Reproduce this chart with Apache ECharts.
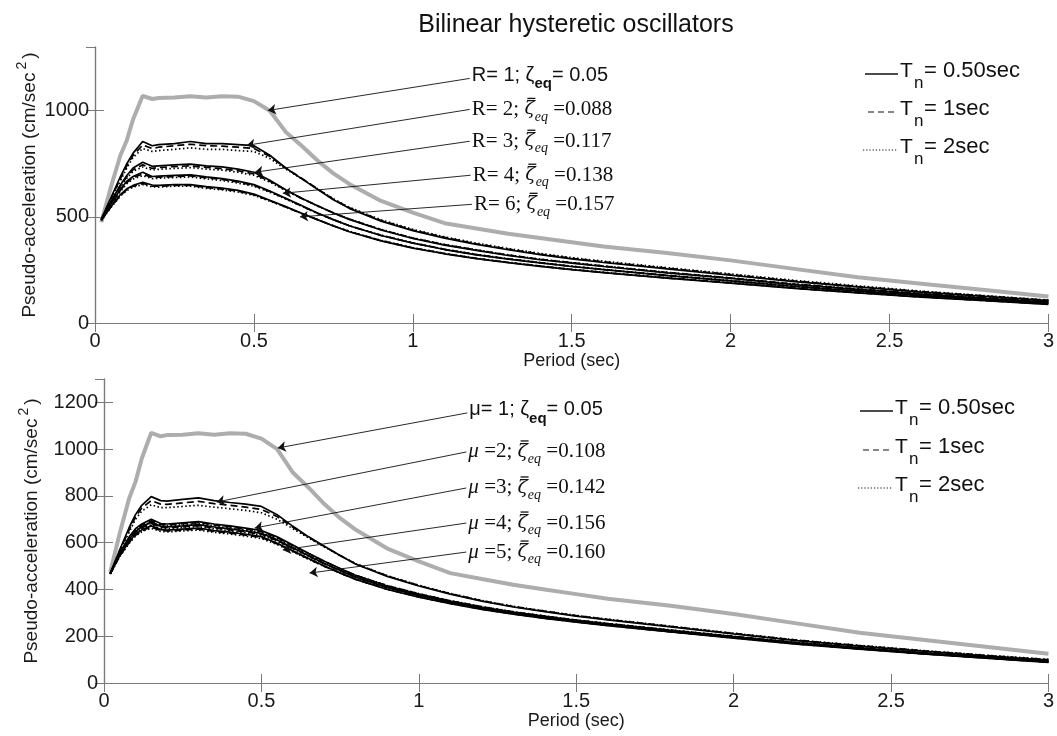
<!DOCTYPE html>
<html>
<head>
<meta charset="utf-8">
<script src="https://cdn.jsdelivr.net/npm/echarts@6/dist/echarts.min.js"></script>
<style>
html, body { margin: 0; padding: 0; background: #fff; }
#chart { width: 1057px; height: 736px; }
</style>
</head>
<body>
<div id="chart"></div>
<script>
// Period axis samples (sec)
const periods = [0.02,0.05,0.08,0.1,0.12,0.15,0.18,0.2,0.25,0.3,0.35,0.4,0.45,0.5,0.55,0.6,0.65,0.7,0.75,0.8,0.9,1.0,1.1,1.2,1.3,1.4,1.5,1.6,1.8,2.0,2.2,2.4,2.6,2.8,3.0];

// Elastic spectrum, 5% damping (cm/sec^2)
const elastic = [475,640,790,860,960,1070,1055,1060,1062,1068,1062,1068,1066,1045,1000,900,835,765,705,655,575,520,470,445,420,400,380,360,330,295,255,215,185,155,125];

// Upper panel: strength reduction factor R
const r2_t050 = [490,590,690,750,800,855,835,840,845,855,845,845,840,835,790,730,680,630,580,540,480,435,400,370,345,322,302,285,255,225,195,170,145,125,105];
const r2_t1   = [488,585,680,740,790,838,822,828,835,842,835,833,828,822,785,730,682,632,583,543,483,438,403,373,348,325,305,288,258,228,198,172,148,127,107];
const r2_t2   = [486,580,670,730,780,822,808,812,818,825,818,818,812,808,775,725,680,632,585,545,486,441,406,376,351,328,308,291,261,231,201,175,150,129,108];
const r3_t050 = [488,570,650,695,730,757,738,740,745,748,740,735,725,710,672,628,588,552,518,488,438,398,367,342,318,298,282,266,236,210,181,158,136,116,98];
const r3_t1   = [487,567,645,688,722,745,728,732,737,740,733,727,717,702,668,626,587,552,519,489,440,400,369,344,320,300,284,268,238,212,183,160,138,118,100];
const r3_t2   = [486,564,640,682,715,735,720,724,728,732,725,720,710,696,664,624,586,551,519,490,441,401,370,345,321,301,285,269,239,213,184,161,139,119,101];
const r4_t050 = [487,560,630,668,690,710,690,692,695,698,688,680,668,652,622,588,553,518,487,458,412,376,346,321,301,283,266,251,223,198,172,150,129,110,93];
const r4_t1   = [486,557,625,662,684,702,685,687,690,693,684,676,664,648,619,586,551,517,487,458,413,377,347,322,302,284,267,252,224,199,173,151,130,111,94];
const r4_t2   = [485,554,620,656,678,694,680,682,685,688,679,671,659,644,616,584,550,516,486,458,414,378,348,323,303,285,268,253,225,200,174,152,131,112,95];
const r6_t050 = [485,548,605,632,648,663,650,648,652,652,642,635,625,607,578,548,517,487,457,430,387,353,326,303,284,267,251,237,211,188,163,142,122,105,88];
const r6_t1   = [484,546,601,628,644,657,645,644,648,648,638,631,621,604,576,547,516,487,458,431,388,354,327,304,285,268,252,238,212,189,164,143,123,106,89];
const r6_t2   = [483,544,598,624,640,652,641,640,644,644,634,627,617,601,574,546,516,487,458,432,389,355,328,305,286,269,253,239,213,190,165,144,124,107,90];

// Lower panel: ductility ratio mu
const m2_t050 = [470,570,665,720,760,797,780,778,785,792,780,772,765,755,720,670,625,585,545,508,456,415,380,350,325,305,286,270,240,210,181,158,136,116,98];
const m2_t1   = [469,565,655,710,748,780,765,764,770,777,767,760,752,742,712,666,623,584,545,509,458,417,382,352,327,307,288,272,242,212,183,160,138,118,100];
const m2_t2   = [468,560,645,700,735,762,750,750,755,760,752,745,738,728,700,660,620,582,545,510,459,418,383,353,328,308,289,273,243,213,184,161,139,119,101];
const m3_t050 = [470,555,625,660,680,700,682,680,685,690,680,672,662,652,625,590,555,521,490,460,415,380,350,325,303,285,268,253,225,198,172,150,128,110,92];
const m3_t1   = [469,553,621,655,675,694,677,676,681,686,676,668,658,648,621,587,553,520,489,460,416,381,351,326,304,286,269,254,226,199,173,151,129,111,93];
const m3_t2   = [468,551,617,651,671,688,672,672,677,682,672,664,654,644,618,585,551,519,489,460,417,382,352,327,305,287,270,255,227,200,174,152,130,112,94];
const m4_t050 = [469,550,615,648,668,688,670,668,672,677,667,659,650,640,612,578,544,511,481,452,408,374,345,320,299,281,264,249,221,195,169,147,126,108,90];
const m4_t1   = [468,548,611,644,664,682,665,664,668,673,663,655,646,636,609,576,543,510,481,452,409,375,346,321,300,282,265,250,222,196,170,148,127,109,91];
const m4_t2   = [467,546,607,640,660,677,661,660,664,669,659,651,642,632,606,574,541,509,480,452,410,376,347,322,301,283,266,251,223,197,171,149,128,110,92];
const m5_t050 = [468,545,605,636,655,672,656,654,658,662,652,645,636,626,598,565,532,500,471,443,400,367,339,315,294,276,260,245,218,192,166,145,124,106,88];
const m5_t1   = [467,543,601,632,651,667,652,650,654,658,648,641,632,622,595,563,531,499,470,443,401,368,340,316,295,277,261,246,219,193,167,146,125,107,89];
const m5_t2   = [466,541,597,628,647,662,648,646,650,654,644,637,628,618,592,561,529,498,470,443,402,369,341,317,296,278,262,247,220,194,168,147,126,108,90];

// Axis ticks
const xTicks = [0, 0.5, 1, 1.5, 2, 2.5, 3];
const yMax = 1300;
const yStepTop = 500;
const yStepBottom = 200;

// Annotation texts and arrows: [label anchor, arrow tip] in data units.
// 'lead' is the text ahead of the barred zeta (used to place the overbar).
const topNotes = [
  { text: '{sn|R= 1; ζ}{sb|eq}{sn|= 0.05}', sans: true, from: [1.179, 1152], to: [0.544, 1001] },
  { lead: 'R= 2; ', text: 'R= 2; {zb|ζ}{sub|eq} =0.088', from: [1.179, 1006], to: [0.478, 837] },
  { lead: 'R= 3; ', text: 'R= 3; {zb|ζ}{sub|eq} =0.117', from: [1.179, 856], to: [0.503, 710] },
  { lead: 'R= 4; ', text: 'R= 4; {zb|ζ}{sub|eq} =0.138', from: [1.182, 696], to: [0.591, 611] },
  { lead: 'R= 6; ', text: 'R= 6; {zb|ζ}{sub|eq} =0.157', from: [1.186, 559], to: [0.645, 500] }
];
const bottomNotes = [
  { text: '{sn|μ= 1; ζ}{sb|eq}{sn|= 0.05}', sans: true, from: [1.154, 1155], to: [0.552, 1005] },
  { lead: '{it|μ} =2; ', text: '{it|μ} =2; {zb|ζ}{sub|eq} =0.108', from: [1.151, 988], to: [0.358, 774] },
  { lead: '{it|μ} =3; ', text: '{it|μ} =3; {zb|ζ}{sub|eq} =0.142', from: [1.151, 834], to: [0.479, 663] },
  { lead: '{it|μ} =4; ', text: '{it|μ} =4; {zb|ζ}{sub|eq} =0.156', from: [1.151, 684], to: [0.568, 569] },
  { lead: '{it|μ} =5; ', text: '{it|μ} =5; {zb|ζ}{sub|eq} =0.160', from: [1.151, 560], to: [0.653, 470] }
];

const legendLabels = ['= 0.50sec', '= 1sec', '= 2sec'];
const yName = 'Pseudo-acceleration (cm/sec{sup|2})';

const SANS = '"Liberation Sans", Arial, sans-serif';
const SERIF = '"Liberation Serif", "Times New Roman", serif';
const ZSERIF = '"DejaVu Serif", "Liberation Serif", serif';
const AXIS_GREY = '#7a7a7a';
const INK = '#111';
const CLEAR = 'rgba(0,0,0,0)';
const DASH = { solid: 'solid', dashed: [7, 4], dotted: [1.5, 2.5] };

function toPoints(values) {
  return periods.map((p, i) => [p, values[i]]);
}

function curve(name, values, kind, g) {
  return {
    type: 'line', name: name, xAxisIndex: g * 2, yAxisIndex: g * 2,
    data: toPoints(values), symbol: 'none', silent: true, z: 3,
    lineStyle: { color: '#000', width: 1.7, type: DASH[kind] }
  };
}

function elasticCurve(g) {
  return {
    type: 'line', name: 'elastic', xAxisIndex: g * 2, yAxisIndex: g * 2,
    data: toPoints(elastic), symbol: 'none', silent: true, z: 2,
    lineStyle: { color: '#adadad', width: 4 }
  };
}

function xAxes(g, nameGap) {
  const base = {
    type: 'value', gridIndex: g, min: 0, max: 3, interval: 0.5,
    splitLine: { show: false },
    axisLine: { show: true, lineStyle: { color: AXIS_GREY, width: 1.2 } },
    axisTick: { show: true, inside: true, length: 9, lineStyle: { color: AXIS_GREY } }
  };
  return [
    Object.assign({}, base, {
      position: 'bottom',
      axisLabel: { show: true, fontSize: 20, fontFamily: SANS, color: '#1a1a1a', margin: 8,
        formatter: v => xTicks.includes(v) ? String(v) : '' },
      name: 'Period (sec)', nameLocation: 'middle', nameGap: nameGap,
      nameTextStyle: { fontSize: 18, fontFamily: SANS, color: '#1a1a1a' }
    }),
    Object.assign({}, base, { position: 'top', axisLabel: { show: false } })
  ];
}

function yAxes(g, step) {
  const base = {
    type: 'value', gridIndex: g, min: 0, max: yMax, interval: step,
    splitLine: { show: false },
    axisLine: { show: true, lineStyle: { color: AXIS_GREY, width: 1.2 } },
    axisTick: { show: true, inside: true, length: 9, lineStyle: { color: AXIS_GREY } }
  };
  return [
    Object.assign({}, base, {
      position: 'left',
      axisLabel: { show: true, fontSize: 20, fontFamily: SANS, color: '#1a1a1a', margin: 6,
        showMaxLabel: false, formatter: v => String(v) }
    }),
    Object.assign({}, base, { position: 'right', axisLabel: { show: false } })
  ];
}

const labelRich = {
  sn: { fontFamily: SANS, fontSize: 20, color: INK },
  sb: { fontFamily: SANS, fontSize: 15, fontWeight: 'bold', color: INK, padding: [17, 0, 0, 0] },
  it: { fontFamily: SERIF, fontSize: 21, fontStyle: 'italic', color: INK },
  zb: { fontFamily: ZSERIF, fontSize: 19, fontStyle: 'italic', color: INK },
  sub: { fontFamily: SERIF, fontSize: 14, fontStyle: 'italic', color: INK, padding: [15, 0, 0, 0] }
};

// Same metrics as the label, but invisible except for the overbar
const barRich = {
  it: { fontFamily: SERIF, fontSize: 21, fontStyle: 'italic', color: CLEAR },
  gap: { fontFamily: SERIF, fontSize: 21, color: CLEAR, width: 3 },
  bar: { fontSize: 1, color: CLEAR, width: 8, height: 1.3, backgroundColor: INK }
};

function notesSeries(notes, g) {
  const labels = notes.map(n => ({
    coord: n.from,
    label: {
      show: true, position: 'right', distance: 2, formatter: n.text,
      fontFamily: n.sans ? SANS : SERIF, fontSize: n.sans ? 20 : 21, color: INK,
      offset: n.sans ? [0, -3] : [0, 0], rich: labelRich
    }
  }));
  const bars = notes.filter(n => n.lead).map(n => ({
    coord: n.from,
    label: {
      show: true, position: 'right', distance: 2, formatter: n.lead + '{gap| }{bar| }',
      fontFamily: SERIF, fontSize: 21, color: CLEAR, offset: [0, -11], rich: barRich
    }
  }));
  return {
    type: 'line', name: 'notes' + g, xAxisIndex: g * 2, yAxisIndex: g * 2, data: [], z: 5,
    markLine: {
      silent: true, animation: false, symbol: ['none', 'arrow'], symbolSize: 8,
      label: { show: false },
      lineStyle: { color: INK, width: 0.9, type: 'solid' },
      emphasis: { disabled: true },
      data: notes.map(n => [{ coord: n.from }, { coord: n.to }])
    },
    markPoint: {
      silent: true, animation: false, symbol: 'circle', symbolSize: 0,
      data: labels.concat(bars)
    }
  };
}

// Line-style key, drawn as plain shapes and text
function legendGraphics(rows, lineX2, textX) {
  const els = [];
  const starts = [lineX2 - 33, lineX2 - 30, lineX2 - 35];
  const kinds = ['solid', 'dashed', 'dotted'];
  rows.forEach((y, i) => {
    els.push({ type: 'line', silent: true,
      shape: { x1: starts[i], y1: y, x2: lineX2, y2: y },
      style: { stroke: INK, lineWidth: kinds[i] === 'solid' ? 1.6 : 1.2,
        lineDash: kinds[i] === 'solid' ? null : (kinds[i] === 'dashed' ? [6, 4] : [1.2, 2]) } });
    els.push({ type: 'text', silent: true, x: textX, y: y - 3,
      style: { text: 'T', fontSize: 21, fontFamily: SANS, fill: INK, verticalAlign: 'middle' } });
    els.push({ type: 'text', silent: true, x: textX + 14, y: y + 9,
      style: { text: 'n', fontSize: 17, fontFamily: SANS, fill: INK, verticalAlign: 'middle' } });
    els.push({ type: 'text', silent: true, x: textX + 24, y: y - 3,
      style: { text: legendLabels[i], fontSize: 22, fontFamily: SANS, fill: INK, verticalAlign: 'middle' } });
  });
  return els;
}

// Vertical y-axis titles
function yTitle(x, y) {
  return {
    type: 'text', silent: true, x: x, y: y, rotation: Math.PI / 2,
    style: {
      text: yName, fontSize: 19, fontFamily: SANS, fill: '#1a1a1a',
      align: 'center', verticalAlign: 'middle',
      rich: { sup: { fontSize: 14, fontFamily: SANS, fill: '#1a1a1a', padding: [0, 3, 15, 3] } }
    }
  };
}

const series = [
  elasticCurve(0),
  curve('R2 Tn0.5', r2_t050, 'solid', 0), curve('R2 Tn1', r2_t1, 'dashed', 0), curve('R2 Tn2', r2_t2, 'dotted', 0),
  curve('R3 Tn0.5', r3_t050, 'solid', 0), curve('R3 Tn1', r3_t1, 'dashed', 0), curve('R3 Tn2', r3_t2, 'dotted', 0),
  curve('R4 Tn0.5', r4_t050, 'solid', 0), curve('R4 Tn1', r4_t1, 'dashed', 0), curve('R4 Tn2', r4_t2, 'dotted', 0),
  curve('R6 Tn0.5', r6_t050, 'solid', 0), curve('R6 Tn1', r6_t1, 'dashed', 0), curve('R6 Tn2', r6_t2, 'dotted', 0),
  elasticCurve(1),
  curve('mu2 Tn0.5', m2_t050, 'solid', 1), curve('mu2 Tn1', m2_t1, 'dashed', 1), curve('mu2 Tn2', m2_t2, 'dotted', 1),
  curve('mu3 Tn0.5', m3_t050, 'solid', 1), curve('mu3 Tn1', m3_t1, 'dashed', 1), curve('mu3 Tn2', m3_t2, 'dotted', 1),
  curve('mu4 Tn0.5', m4_t050, 'solid', 1), curve('mu4 Tn1', m4_t1, 'dashed', 1), curve('mu4 Tn2', m4_t2, 'dotted', 1),
  curve('mu5 Tn0.5', m5_t050, 'solid', 1), curve('mu5 Tn1', m5_t1, 'dashed', 1), curve('mu5 Tn2', m5_t2, 'dotted', 1),
  notesSeries(topNotes, 0),
  notesSeries(bottomNotes, 1)
];

const chart = echarts.init(document.getElementById('chart'), null, { renderer: 'canvas' });
chart.setOption({
  animation: false,
  backgroundColor: '#ffffff',
  title: {
    text: 'Bilinear hysteretic oscillators', left: 571, top: 8, textAlign: 'center',
    textStyle: { fontSize: 25, fontWeight: 'normal', fontFamily: SANS, color: INK }
  },
  grid: [
    { left: 95, right: 8, top: 47, height: 276 },
    { left: 104, right: 7, top: 379, height: 304 }
  ],
  xAxis: xAxes(0, 29).concat(xAxes(1, 29)),
  yAxis: yAxes(0, yStepTop).concat(yAxes(1, yStepBottom)),
  series: series,
  graphic: legendGraphics([74, 112, 150], 898, 900)
    .concat(legendGraphics([411, 450, 488], 893, 895))
    .concat([yTitle(30, 185), yTitle(32, 531)])
});
</script>
</body>
</html>
